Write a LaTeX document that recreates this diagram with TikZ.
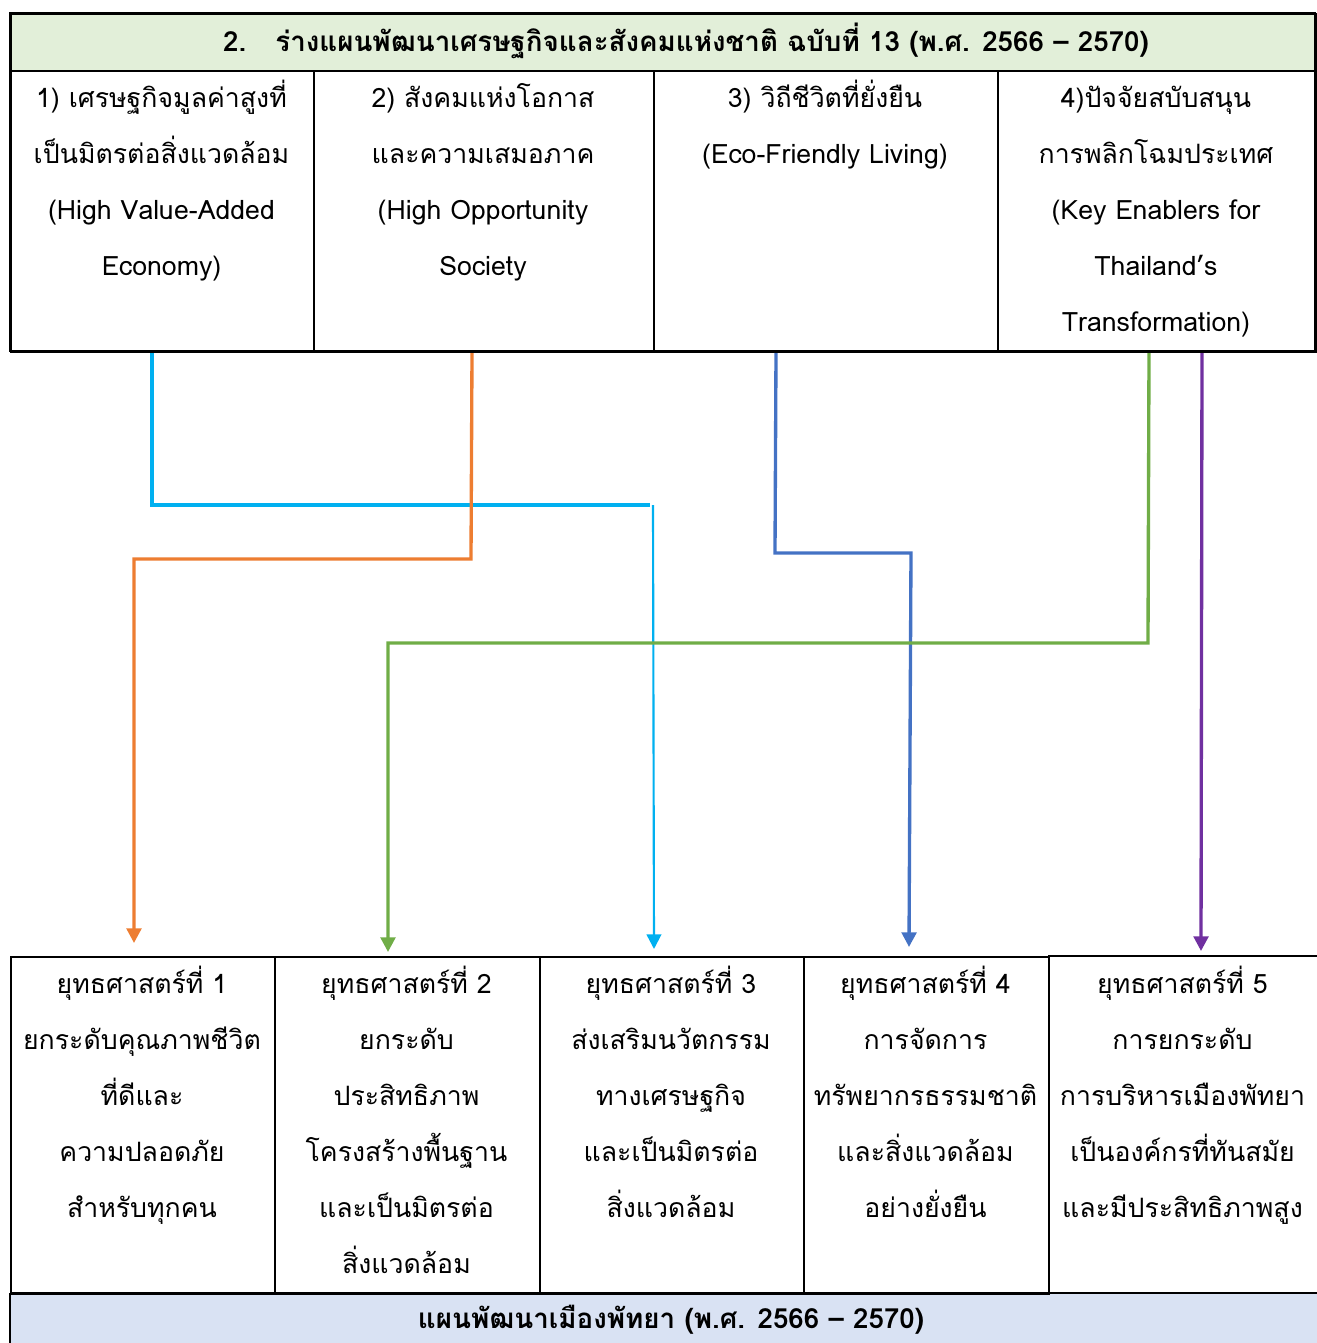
\documentclass[tikz,border=0pt]{standalone}
\usepackage{fontspec}
\usetikzlibrary{arrows.meta}
\newfontfamily\thai[Script=Thai]{Loma}
\definecolor{lnCyan}{HTML}{00B0F0}
\definecolor{lnOrange}{HTML}{ED7D31}
\definecolor{lnBlue}{HTML}{4472C4}
\definecolor{lnGreen}{HTML}{70AD47}
\definecolor{lnPurple}{HTML}{7030A0}
\definecolor{hdGreen}{HTML}{E2EFD9}
\definecolor{hdBlue}{HTML}{D9E2F3}
\newcommand{\topstrut}{\rule{0pt}{30pt}}
\newcommand{\cellfont}{\thai\fontsize{20}{42}\selectfont\lineskiplimit -100pt\relax}
\begin{document}
\begin{tikzpicture}[x=0.75pt,y=-0.75pt,
  cell/.style={draw=black,line width=1.5pt,rectangle,inner sep=0pt,anchor=north west},
  celltext/.style={anchor=north,inner sep=0pt,align=center,font=\cellfont},
  headtext/.style={inner sep=0pt,font=\thai\bfseries\fontsize{20.8}{24}\selectfont},
  link/.style={line width=2.5pt,-{Triangle[length=11pt,width=11pt]}},
  plain/.style={line width=2.5pt}]
\useasboundingbox (0,0) rectangle (1317,1343);

% upper table: plan of the nation
\node[cell,fill=hdGreen,minimum width=1305*0.75pt,minimum height=57*0.75pt] (nhead) at (10,13) {};
\node[cell,minimum width=303*0.75pt,minimum height=281*0.75pt] (t1) at (10,70) {};
\node[cell,minimum width=340*0.75pt,minimum height=281*0.75pt] (t2) at (313,70) {};
\node[cell,minimum width=344*0.75pt,minimum height=281*0.75pt] (t3) at (653,70) {};
\node[cell,minimum width=318*0.75pt,minimum height=281*0.75pt] (t4) at (997,70) {};
\draw[line width=1.9pt] (10,13) rectangle (1315,351);

\node[headtext] (nheadtx) at (686,41) {2.\hspace{0.6em} ร่างแผนพัฒนาเศรษฐกิจและสังคมแห่งชาติ ฉบับที่ 13 (พ.ศ. 2566 – 2570)};
\node[celltext] (t1tx) at (161.5,67) {\topstrut 1) เศรษฐกิจมูลค่าสูงที่\\เป็นมิตรต่อสิ่งแวดล้อม\\(High Value-Added\\Economy)};
\node[celltext] (t2tx) at (483,67) {\topstrut 2) สังคมแห่งโอกาส\\และความเสมอภาค\\(High Opportunity\\Society};
\node[celltext] (t3tx) at (825,67) {\topstrut 3) วิถีชีวิตที่ยั่งยืน\\(Eco-Friendly Living)};
\node[celltext] (t4tx) at (1156,67) {\topstrut 4)ปัจจัยสบับสนุน\\การพลิกโฉมประเทศ\\(Key Enablers for\\Thailand’s\\Transformation)};

% lower table: city plan strategies
\fill[hdBlue] (10,1293) rectangle (1317,1343);
\node[cell,minimum width=264*0.75pt,minimum height=337*0.75pt] (b1) at (10,956) {};
\node[cell,minimum width=265*0.75pt,minimum height=337*0.75pt] (b2) at (274,956) {};
\node[cell,minimum width=264*0.75pt,minimum height=337*0.75pt] (b3) at (539,956) {};
\node[cell,minimum width=245*0.75pt,minimum height=337*0.75pt] (b4) at (803,956) {};
\draw[line width=1.5pt] (1048,956) -- (1317,956);
\coordinate (b5) at (1182.5,956);
\draw[line width=2pt] (10,1293) -- (1317,1293);
\draw[line width=1.5pt] (10,1293) -- (10,1343);
\node[headtext] (chead) at (671,1320) {แผนพัฒนาเมืองพัทยา (พ.ศ. 2566 – 2570)};

\node[celltext] (b1tx) at (142,953) {\topstrut ยุทธศาสตร์ที่ 1\\ยกระดับคุณภาพชีวิต\\ที่ดีและ\\ความปลอดภัย\\สำหรับทุกคน};
\node[celltext] (b2tx) at (406.5,953) {\topstrut ยุทธศาสตร์ที่ 2\\ยกระดับ\\ประสิทธิภาพ\\โครงสร้างพื้นฐาน\\และเป็นมิตรต่อ\\สิ่งแวดล้อม};
\node[celltext] (b3tx) at (671,953) {\topstrut ยุทธศาสตร์ที่ 3\\ส่งเสริมนวัตกรรม\\ทางเศรษฐกิจ\\และเป็นมิตรต่อ\\สิ่งแวดล้อม};
\node[celltext] (b4tx) at (925.5,953) {\topstrut ยุทธศาสตร์ที่ 4\\การจัดการ\\ทรัพยากรธรรมชาติ\\และสิ่งแวดล้อม\\อย่างยั่งยืน};
\node[celltext] (b5tx) at (1182.5,953) {\topstrut ยุทธศาสตร์ที่ 5\\การยกระดับ\\การบริหารเมืองพัทยา\\เป็นองค์กรที่ทันสมัย\\และมีประสิทธิภาพสูง};

% connectors
\coordinate (cyanTurn) at (653,505);
\draw[plain,lnCyan] ([xshift=-10.5*0.75pt]t1.south) |- ([xshift=-3*0.75pt]cyanTurn);
\draw[link,lnCyan,line width=1.6pt] (cyanTurn) -- ([xshift=-18*0.75pt,yshift=7*0.75pt]b3.north);
\draw[link,lnOrange] ([xshift=-12*0.75pt]t2.south) -- (471,559) -| ([xshift=-9*0.75pt,yshift=13*0.75pt]b1.north);
\draw[link,lnBlue] ([xshift=-50*0.75pt]t3.south) -- (775,553) -- (911,553) -- ([xshift=-17.5*0.75pt,yshift=9*0.75pt]b4.north);
\draw[link,lnGreen] ([xshift=-8*0.75pt]t4.south) -- (1148,643) -| ([xshift=-19.5*0.75pt,yshift=4*0.75pt]b2.north);
\draw[link,lnPurple] ([xshift=45*0.75pt]t4.south) -- ([xshift=18.5*0.75pt,yshift=5*0.75pt]b5);
\end{tikzpicture}
\end{document}
